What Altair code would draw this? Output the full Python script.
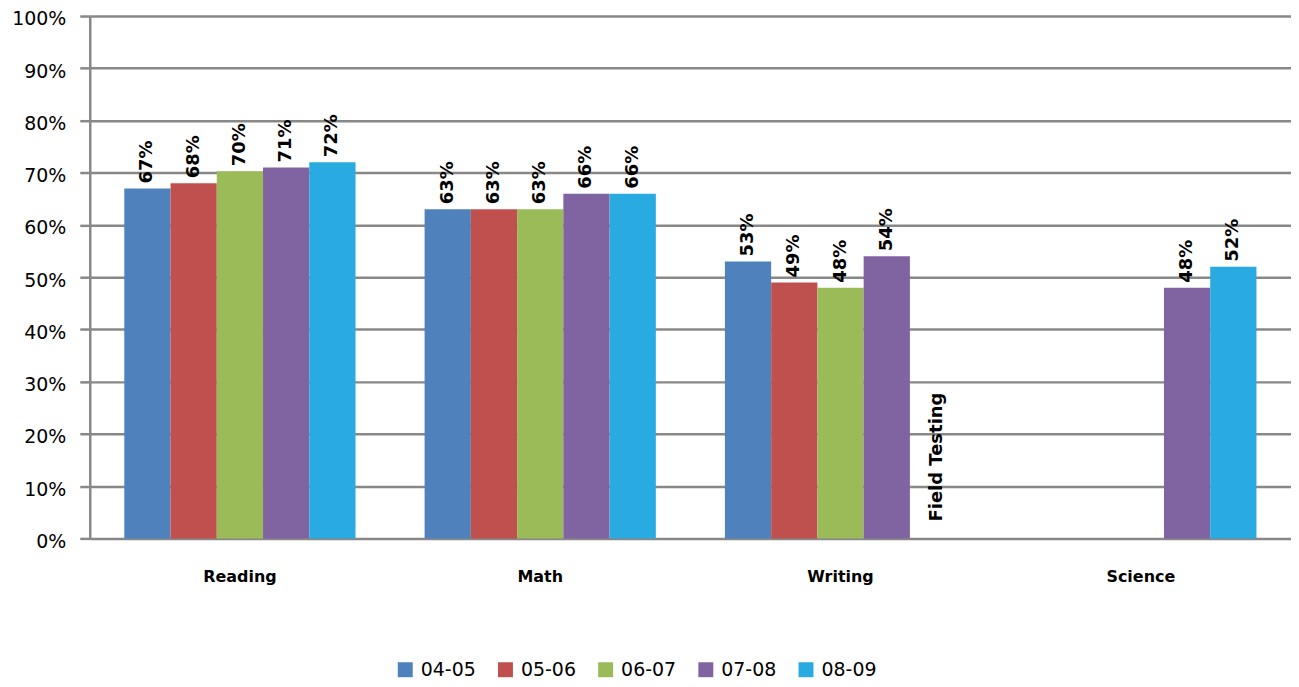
import altair as alt
import pandas as pd

categories = ["Reading", "Math", "Writing", "Science"]
series = ["04-05", "05-06", "06-07", "07-08", "08-09"]
colors = ["#4F81BD", "#C0504D", "#9BBB59", "#8064A2", "#29ABE2"]

reading = [67, 68, 70.3, 71, 72]
math = [63, 63, 63, 66, 66]
writing = [53, 49, 48, 54, None]
science = [None, None, None, 48, 52]
labels_reading = ["67%", "68%", "70%", "71%", "72%"]
labels_math = ["63%", "63%", "63%", "66%", "66%"]
labels_writing = ["53%", "49%", "48%", "54%", None]
labels_science = [None, None, None, "48%", "52%"]

note_category = "Writing"
note_series = "08-09"
note_text = "Field Testing"

rows = []
for cat, vals, labs in zip(categories, [reading, math, writing, science],
                           [labels_reading, labels_math, labels_writing, labels_science]):
    for s, v, l in zip(series, vals, labs):
        if v is not None:
            rows.append({"category": cat, "series": s, "value": v, "label": l})
df = pd.DataFrame(rows)
note_df = pd.DataFrame([{"category": note_category, "series": note_series, "value": 0, "label": note_text}])

FONT = "DejaVu Sans"

x_enc = alt.X("category:N", sort=categories, title=None,
              scale=alt.Scale(paddingInner=0.23, paddingOuter=0.115),
              axis=alt.Axis(labelFont=FONT, labelFontSize=16, labelFontWeight="bold",
                            labelColor="black", labelPadding=30, ticks=False,
                            domain=False, labelAngle=0))
xo_enc = alt.XOffset("series:N", sort=series,
                     scale=alt.Scale(domain=series, paddingInner=0, paddingOuter=0))
y_enc = alt.Y("value:Q", title=None,
              scale=alt.Scale(domain=[0, 100], nice=False),
              axis=alt.Axis(values=list(range(0, 101, 10)),
                            labelExpr="datum.value + '%'",
                            labelFont=FONT, labelFontSize=19, labelColor="black",
                            labelPadding=14, labelOffset=3, tickSize=10, tickColor="#888888",
                            tickWidth=2.5, domainColor="#888888", domainWidth=2.5,
                            grid=True, gridColor="#888888", gridWidth=2.5))

bars = alt.Chart(df).mark_bar().encode(
    x=x_enc, xOffset=xo_enc, y=y_enc,
    color=alt.Color("series:N", sort=series,
                    scale=alt.Scale(domain=series, range=colors),
                    legend=alt.Legend(title=None, orient="none", direction="horizontal",
                                      legendX=307, legendY=646,
                                      symbolType="square", symbolSize=225,
                                      symbolStrokeWidth=0, symbolOpacity=1,
                                      labelFont=FONT, labelFontSize=19,
                                      labelColor="black", labelOffset=6,
                                      columnPadding=19.5, padding=0))
)

texts = alt.Chart(df).mark_text(angle=270, align="left", baseline="middle", dx=5,
                                font=FONT, fontSize=18, fontWeight="bold",
                                color="black").encode(
    x=alt.X("category:N", sort=categories), xOffset=alt.XOffset("series:N", sort=series),
    y="value:Q", text="label:N")

note = alt.Chart(note_df).mark_text(angle=270, align="left", baseline="middle", dx=17, dy=4,
                                    font=FONT, fontSize=18, fontWeight="bold",
                                    color="black").encode(
    x=alt.X("category:N", sort=categories), xOffset=alt.XOffset("series:N", sort=series),
    y="value:Q", text="label:N")

chart = alt.layer(bars, texts, note).properties(
    width=1205, height=524,
    autosize=alt.AutoSizeParams(type="none"),
    padding={"left": 82, "top": 7, "right": 0, "bottom": 140},
).configure_view(stroke=None).configure_axis(gridDash=[])

chart.save("out.html", embed_options={"renderer": "svg", "actions": False})
